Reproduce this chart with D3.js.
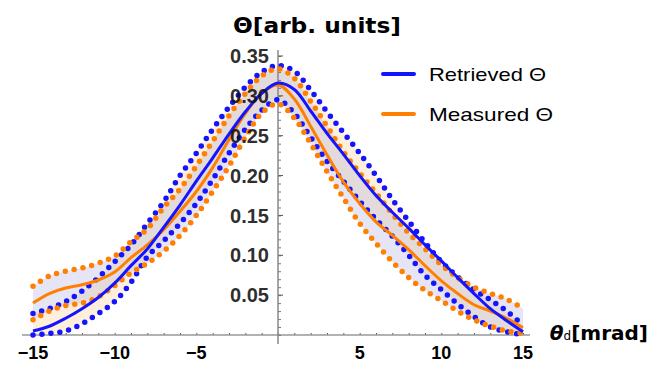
<!DOCTYPE html>
<html>
<head>
<meta charset="utf-8">
<script src="https://cdn.jsdelivr.net/npm/d3@7"></script>
<style>
  body { margin: 0; background: #fff; }
  text { font-family: "Liberation Sans", Arial, sans-serif; }
</style>
</head>
<body>
<script>
// angle grid, mrad
var angles = [-15,-14,-13,-12,-11,-10,-9,-8,-7,-6,-5,-4,-3,-2,-1,0,1,2,3,4,5,6,7,8,9,10,11,12,13,14,15];

// retrieved (blue) + its bounds
var retrieved     = [0.005,0.011,0.021,0.033,0.047,0.065,0.087,0.108,0.135,0.163,0.193,0.222,0.252,0.280,0.303,0.316,0.308,0.281,0.253,0.227,0.200,0.175,0.154,0.134,0.113,0.093,0.072,0.052,0.033,0.018,0.004];
var retrievedHigh = [0.027,0.033,0.042,0.055,0.072,0.092,0.113,0.140,0.167,0.200,0.228,0.258,0.286,0.311,0.330,0.338,0.331,0.307,0.280,0.254,0.228,0.200,0.170,0.143,0.116,0.092,0.073,0.057,0.044,0.030,0.012];
var retrievedLow  = [0.000,0.002,0.005,0.014,0.027,0.042,0.066,0.098,0.118,0.140,0.165,0.195,0.228,0.258,0.282,0.295,0.278,0.248,0.218,0.193,0.168,0.145,0.124,0.100,0.075,0.057,0.039,0.023,0.010,0.004,0.000];

// measured (orange) + its bounds
var measured      = [0.040,0.052,0.059,0.063,0.069,0.079,0.097,0.113,0.132,0.155,0.180,0.210,0.245,0.278,0.303,0.314,0.296,0.262,0.226,0.192,0.165,0.142,0.125,0.107,0.087,0.068,0.052,0.038,0.030,0.021,0.009];
var measuredHigh  = [0.061,0.074,0.080,0.084,0.090,0.099,0.117,0.133,0.160,0.183,0.212,0.243,0.275,0.303,0.325,0.334,0.322,0.293,0.262,0.230,0.203,0.178,0.152,0.128,0.108,0.088,0.072,0.060,0.052,0.045,0.033];
var measuredLow   = [0.019,0.030,0.037,0.040,0.048,0.062,0.078,0.090,0.105,0.125,0.150,0.180,0.212,0.248,0.278,0.290,0.272,0.240,0.205,0.172,0.140,0.115,0.092,0.072,0.056,0.043,0.030,0.019,0.011,0.005,0.002];

var xTicks = [-15,-10,-5,5,10,15];
var yTicks = [0.05,0.10,0.15,0.20,0.25,0.30,0.35];
var legendNames = ["Retrieved \u0398", "Measured \u0398"];

var width = 652, height = 365;
var blue = "#1414ff", orange = "#ff8000";

var svg = d3.select("body").append("svg")
  .attr("width", width)
  .attr("height", height);

var x = d3.scaleLinear().domain([-15, 15]).range([33, 523]);
var y = d3.scaleLinear().domain([0, 0.35]).range([335, 56]);

function band(lo, hi) {
  return d3.area()
    .x(function (d, i) { return x(angles[i]); })
    .y0(function (d, i) { return y(lo[i]); })
    .y1(function (d, i) { return y(hi[i]); })
    .curve(d3.curveCatmullRom)(angles);
}
function line(vals) {
  return d3.line()
    .x(function (d, i) { return x(angles[i]); })
    .y(function (d, i) { return y(vals[i]); })
    .curve(d3.curveCatmullRom)(angles);
}

// bands (colours are swapped in the original figure)
svg.append("path").attr("d", band(retrievedLow, retrievedHigh))
  .attr("fill", "#f7c98a").attr("fill-opacity", 0.3);
svg.append("path").attr("d", band(measuredLow, measuredHigh))
  .attr("fill", "#a9a9dd").attr("fill-opacity", 0.3);

// axes
var xAxisG = svg.append("g").attr("transform", "translate(0," + y(0) + ")");
xAxisG.call(d3.axisTop(x).tickValues(d3.range(-15, 16, 1)).tickSize(2).tickFormat(""));
xAxisG.call(function (g) {
  g.select(".domain").remove();
  g.selectAll(".tick line").attr("stroke", "#555");
});
svg.append("line").attr("x1", 22).attr("x2", 530).attr("y1", y(0)).attr("y2", y(0))
  .attr("stroke", "#999").attr("stroke-width", 1.5);

var yAxisG = svg.append("g").attr("transform", "translate(" + x(0) + ",0)");
yAxisG.call(d3.axisRight(y).tickValues(d3.range(0, 0.355, 0.01)).tickSize(3).tickFormat(""));
yAxisG.call(function (g) {
  g.select(".domain").remove();
  g.selectAll(".tick line").attr("stroke", "#777");
});
yAxisG.selectAll(".major").data(yTicks).enter().append("line")
  .attr("x1", 0).attr("x2", 5)
  .attr("y1", function (d) { return y(d); })
  .attr("y2", function (d) { return y(d); })
  .attr("stroke", "#555");
svg.append("line").attr("x1", x(0)).attr("x2", x(0)).attr("y1", 50).attr("y2", 344)
  .attr("stroke", "#888").attr("stroke-width", 1.5);

// dotted bounds
[[retrievedHigh, blue], [retrievedLow, blue], [measuredHigh, orange], [measuredLow, orange]].forEach(function (s) {
  svg.append("path").attr("d", line(s[0]))
    .attr("fill", "none").attr("stroke", s[1])
    .attr("stroke-width", 5.5).attr("stroke-linecap", "round")
    .attr("stroke-dasharray", "0 9");
});

// solid curves
svg.append("path").attr("d", line(measured))
  .attr("fill", "none").attr("stroke", orange).attr("stroke-width", 3);
svg.append("path").attr("d", line(retrieved))
  .attr("fill", "none").attr("stroke", blue).attr("stroke-width", 3);

// tick labels
svg.selectAll(".xl").data(xTicks).enter().append("text")
  .attr("x", function (d) { return x(d); })
  .attr("y", 359)
  .attr("text-anchor", "middle")
  .style("font-size", "18px").style("font-weight", "bold")
  .text(function (d) { return d < 0 ? "\u2212" + (-d) : d; });

svg.selectAll(".yl").data(yTicks).enter().append("text")
  .attr("x", 269)
  .attr("y", function (d) { return y(d); })
  .attr("dy", "0.36em")
  .attr("text-anchor", "end")
  .style("font-size", "20px").style("font-weight", "bold")
  .attr("fill", "#111").attr("fill-opacity", 0.9)
  .text(function (d) { return d3.format(".2f")(d); });

// titles
svg.append("text")
  .attr("x", 233).attr("y", 33)
  .attr("textLength", 168).attr("lengthAdjust", "spacingAndGlyphs")
  .style("font-family", "'DejaVu Sans', sans-serif")
  .style("font-size", "22px").style("font-weight", "bold")
  .text("\u0398[arb. units]");

var xl = svg.append("text")
  .attr("x", 648).attr("y", 340)
  .attr("text-anchor", "end")
  .style("font-family", "'DejaVu Sans', sans-serif")
  .style("font-size", "20px").style("font-weight", "bold");
xl.append("tspan").style("font-style", "italic").text("\u03b8");
xl.append("tspan").style("font-size", "12px").style("font-weight", "normal").text("d");
xl.append("tspan").text("[mrad]");

// legend
var legend = svg.selectAll(".leg").data(legendNames).enter().append("g")
  .attr("transform", function (d, i) { return "translate(383," + (74 + i * 40) + ")"; });
legend.append("line")
  .attr("x1", 0).attr("x2", 31)
  .attr("stroke", function (d, i) { return i == 0 ? blue : orange; })
  .attr("stroke-width", 4).attr("stroke-linecap", "round");
legend.append("text")
  .attr("x", 46).attr("dy", "0.36em")
  .attr("textLength", function (d, i) { return i == 0 ? 117 : 124; })
  .attr("lengthAdjust", "spacingAndGlyphs")
  .style("font-size", "19px")
  .text(function (d) { return d; });
</script>
</body>
</html>
